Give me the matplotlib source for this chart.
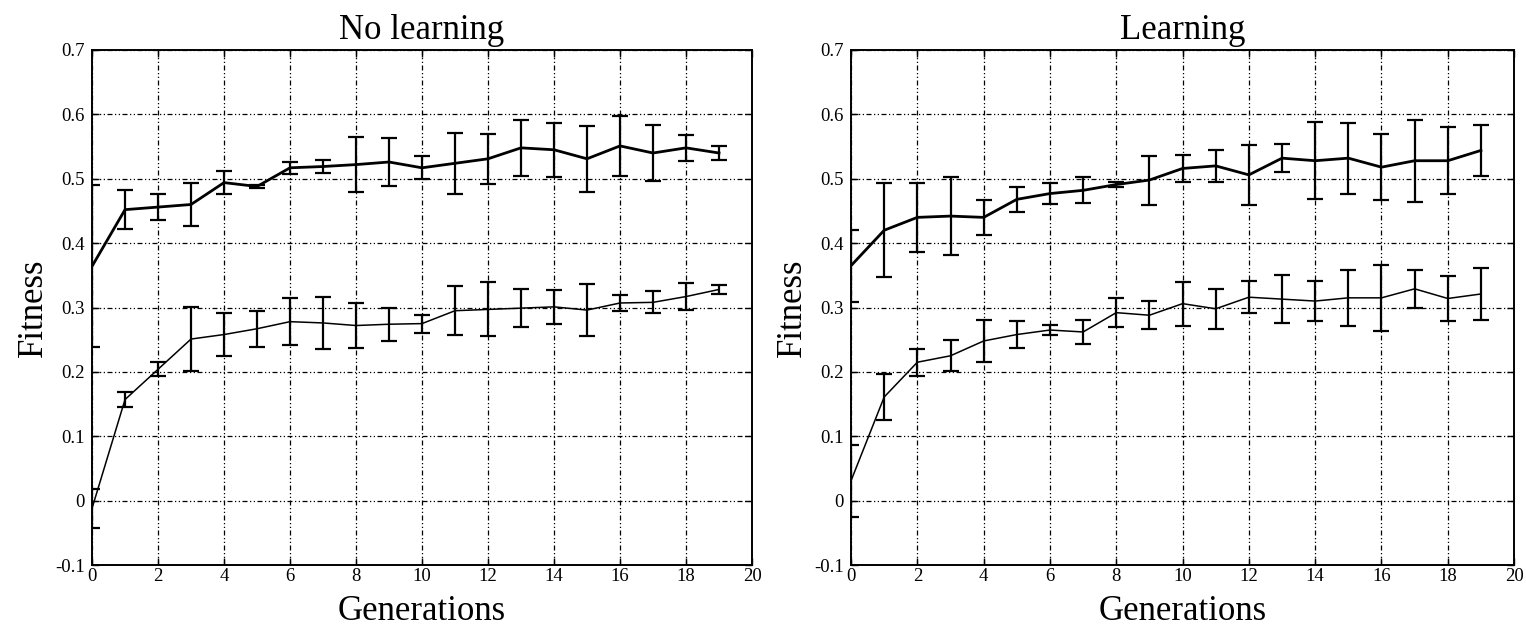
import numpy as np
import matplotlib
matplotlib.use("Agg")
import matplotlib.pyplot as plt

plt.rcParams['font.family'] = ['Liberation Serif', 'DejaVu Serif']

# generations
gens = list(range(20))

# No learning - upper curve (mean, error)
nl_top = [0.364, 0.452, 0.456, 0.460, 0.494, 0.488, 0.517, 0.519, 0.522, 0.526,
          0.517, 0.524, 0.531, 0.548, 0.545, 0.531, 0.551, 0.540, 0.548, 0.540]
nl_top_err = [0.126, 0.030, 0.020, 0.033, 0.018, 0.003, 0.009, 0.010, 0.043, 0.038,
              0.018, 0.047, 0.039, 0.043, 0.042, 0.051, 0.047, 0.043, 0.020, 0.011]

# No learning - lower curve
nl_bot = [-0.012, 0.157, 0.204, 0.251, 0.258, 0.267, 0.278, 0.276, 0.272, 0.274,
          0.275, 0.295, 0.297, 0.299, 0.301, 0.296, 0.307, 0.308, 0.317, 0.328]
nl_bot_err = [0.030, 0.011, 0.011, 0.050, 0.034, 0.028, 0.037, 0.041, 0.035, 0.026,
              0.014, 0.038, 0.042, 0.030, 0.026, 0.041, 0.012, 0.017, 0.021, 0.007]

# Learning - upper curve
l_top = [0.365, 0.420, 0.440, 0.442, 0.440, 0.468, 0.477, 0.482, 0.491, 0.498,
         0.516, 0.520, 0.506, 0.532, 0.528, 0.532, 0.518, 0.528, 0.528, 0.544]
l_top_err = [0.056, 0.073, 0.054, 0.060, 0.027, 0.019, 0.016, 0.020, 0.004, 0.038,
             0.021, 0.025, 0.046, 0.022, 0.060, 0.055, 0.051, 0.064, 0.052, 0.039]

# Learning - lower curve
l_bot = [0.031, 0.161, 0.215, 0.225, 0.248, 0.258, 0.265, 0.262, 0.292, 0.288,
         0.306, 0.298, 0.316, 0.313, 0.310, 0.315, 0.315, 0.329, 0.314, 0.321]
l_bot_err = [0.056, 0.035, 0.021, 0.024, 0.033, 0.021, 0.008, 0.019, 0.022, 0.022,
             0.034, 0.031, 0.025, 0.037, 0.031, 0.044, 0.051, 0.030, 0.035, 0.040]

titles = ['No learning', 'Learning']
y_ticks = [-0.1, 0, 0.1, 0.2, 0.3, 0.4, 0.5, 0.6, 0.7]
y_ticklabels = ['-0.1', '0', '0.1', '0.2', '0.3', '0.4', '0.5', '0.6', '0.7']
x_ticks = list(range(0, 21, 2))

fig = plt.figure(figsize=(15.26, 6.25), dpi=100)
ax1 = fig.add_axes([0.0603, 0.096, 0.4325, 0.824])
ax2 = fig.add_axes([0.5577, 0.096, 0.4345, 0.824])

grid_style = (0, (4, 2, 1, 2, 1, 2))

panels = [(ax1, nl_top, nl_top_err, nl_bot, nl_bot_err),
          (ax2, l_top, l_top_err, l_bot, l_bot_err)]

for i, (ax, top, top_err, bot, bot_err) in enumerate(panels):
    ax.errorbar(gens, top, yerr=top_err, color='black', linewidth=2.0,
                elinewidth=1.6, capsize=6, capthick=1.6)
    ax.errorbar(gens, bot, yerr=bot_err, color='black', linewidth=1.1,
                elinewidth=1.6, capsize=6, capthick=1.6)
    ax.set_xlim(0, 20)
    ax.set_ylim(-0.1, 0.7)
    ax.set_xticks(x_ticks)
    ax.set_yticks(y_ticks)
    ax.set_yticklabels(y_ticklabels)
    ax.grid(True, color='black', linestyle=grid_style, linewidth=0.9)
    ax.tick_params(direction='in', length=5, width=1, labelsize=13.5,
                   top=True, right=True, pad=5)
    ax.tick_params(axis='x', pad=2)
    for sp in ax.spines.values():
        sp.set_linewidth(1.4)
    ax.set_title(titles[i], fontsize=25, pad=8)
    ax.set_xlabel('Generations', fontsize=25, labelpad=7)
    ax.set_ylabel('Fitness', fontsize=25, labelpad=4)

fig.savefig('out.png', dpi=100)
